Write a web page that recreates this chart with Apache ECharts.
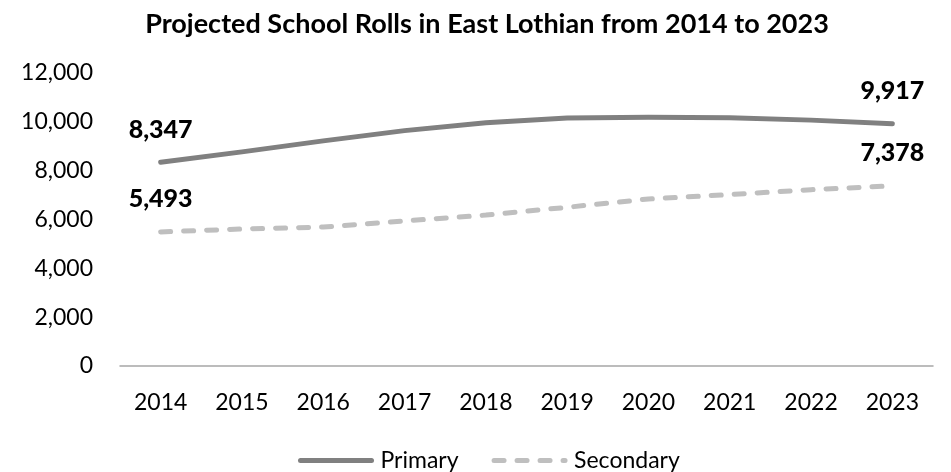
<!DOCTYPE html>
<html>
<head>
<meta charset="utf-8">
<script src="https://cdn.jsdelivr.net/npm/echarts@6/dist/echarts.min.js"></script>
<style>
  html, body { margin: 0; padding: 0; background: #fff; }
  #chart { width: 951px; height: 472px; }
</style>
</head>
<body>
<div id="chart"></div>
<script>
// School roll projections, East Lothian
var years = ['2014', '2015', '2016', '2017', '2018', '2019', '2020', '2021', '2022', '2023'];
var primaryRolls = [8347, 8770, 9220, 9640, 9960, 10160, 10190, 10170, 10070, 9917];
var secondaryRolls = [5493, 5610, 5690, 5940, 6180, 6500, 6840, 7020, 7220, 7378];
var yTicks = { min: 0, max: 12000, step: 2000 };

var FONT = 'Lato, "Open Sans", sans-serif';

function fmt(v) {
  return Number(v).toLocaleString('en-US');
}

// Value label style for the end points
var endLabel = {
  position: 'top',
  distance: 20,
  fontFamily: FONT,
  fontSize: 25,
  fontWeight: 900,
  color: '#000',
  formatter: function (p) { return fmt(p.value); }
};

// Only the first and last points carry a value label
function withEndLabels(values) {
  return values.map(function (v, i) {
    var isEnd = i === 0 || i === values.length - 1;
    return {
      value: v,
      label: Object.assign({}, endLabel, { show: isEnd })
    };
  });
}

var chart = echarts.init(document.getElementById('chart'), null, { renderer: 'canvas' });

chart.setOption({
  animation: false,
  backgroundColor: '#fff',
  title: {
    text: 'Projected School Rolls in East Lothian from 2014 to 2023',
    left: 482,
    top: 6,
    textAlign: 'center',
    textStyle: { fontFamily: FONT, fontSize: 27, fontWeight: 'bold', color: '#000' }
  },
  grid: { left: 120, right: 18, top: 73, bottom: 106, containLabel: false },
  legend: {
    left: 293,
    top: 444,
    itemWidth: 71,
    itemHeight: 26,
    itemGap: 33,
    itemStyle: { opacity: 0 },
    lineStyle: { width: 5, cap: 'round' },
    textStyle: { fontFamily: FONT, fontSize: 23, color: '#000', padding: [0, 0, 0, 4] },
    data: ['Primary', 'Secondary']
  },
  xAxis: {
    type: 'category',
    data: years,
    boundaryGap: true,
    axisLine: { show: true, lineStyle: { color: '#a6a6a6', width: 1.5 } },
    axisTick: { show: false },
    axisLabel: { fontFamily: FONT, fontSize: 23, color: '#000', margin: 25 },
    splitLine: { show: false }
  },
  yAxis: {
    type: 'value',
    min: yTicks.min,
    max: yTicks.max,
    interval: yTicks.step,
    axisLine: { show: false },
    axisTick: { show: false },
    splitLine: { show: false },
    axisLabel: {
      fontFamily: FONT, fontSize: 23, color: '#000', margin: 27,
      formatter: function (v) { return fmt(v); }
    }
  },
  series: [
    {
      name: 'Primary',
      type: 'line',
      data: withEndLabels(primaryRolls),
      symbol: 'circle',
      symbolSize: 0,
      showSymbol: true,
      color: '#808080',
      lineStyle: { color: '#808080', width: 5, cap: 'round', join: 'round' },
      label: endLabel
    },
    {
      name: 'Secondary',
      type: 'line',
      data: withEndLabels(secondaryRolls),
      symbol: 'circle',
      symbolSize: 0,
      showSymbol: true,
      color: '#bfbfbf',
      lineStyle: { color: '#bfbfbf', width: 5, type: [10, 13], cap: 'round', join: 'round' },
      label: endLabel
    }
  ]
});
</script>
</body>
</html>
